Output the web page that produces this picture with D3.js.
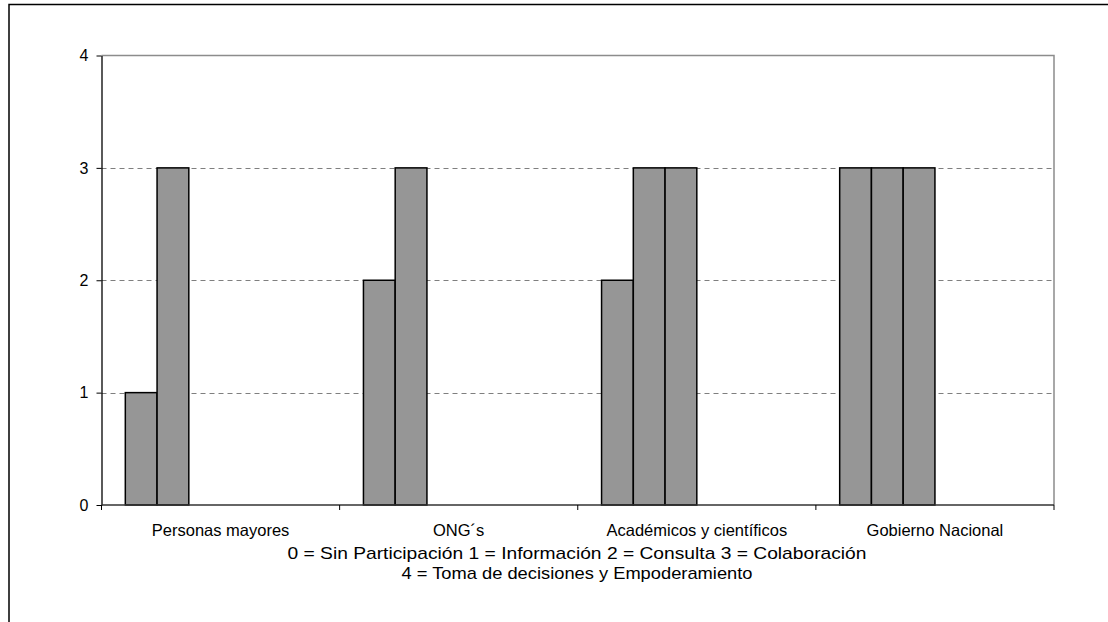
<!DOCTYPE html>
<html><head><meta charset="utf-8">
<script src="https://cdn.jsdelivr.net/npm/d3@7"></script>
<style>body{margin:0;background:#fff;} svg{display:block;}</style>
</head><body><svg id="c" width="1108" height="622"></svg>
<script>
const categories = ["Personas mayores", "ONG´s", "Académicos y científicos", "Gobierno Nacional"];
const seriesNames = ["s1","s2","s3","s4","s5","s6"];
const s1 = [1, 2, 2, 3];
const s2 = [3, 3, 3, 3];
const s3 = [0, 0, 3, 3];
const s4 = [0, 0, 0, 0];
const s5 = [0, 0, 0, 0];
const s6 = [0, 0, 0, 0];
const seriesValues = [s1, s2, s3, s4, s5, s6];
const yTicks = [0, 1, 2, 3, 4];
const legendLines = ["0 = Sin Participación  1 = Información  2 = Consulta  3 = Colaboración",
                     "4 = Toma de decisiones y Empoderamiento"];

const svg = d3.select("#c");
const L = 101.5, R = 1054, T = 55.5, B = 505;
const FONT = "Liberation Sans, Arial, sans-serif";

// outer border (left + top)
svg.append("path").attr("d", `M9,622 L9,4.5 L1108,4.5`).attr("fill","none").attr("stroke","#000").attr("stroke-width",1.5);

const x0 = d3.scaleBand().domain(categories).range([L, R]).paddingInner(0).paddingOuter(0);
const gap = 1.5;
const nS = seriesNames.length;
const bw = x0.bandwidth() / (nS + gap);
const x1 = d3.scaleBand().domain(seriesNames).range([bw*gap/2, bw*gap/2 + bw*nS]).padding(0);
const y = d3.scaleLinear().domain([0, 4]).range([B, T]);

// gridlines
svg.append("g").selectAll("line").data(yTicks.filter(d => d > 0 && d < 4)).join("line")
  .attr("x1", L).attr("x2", R).attr("y1", d => Math.round(y(d))+0.5).attr("y2", d => Math.round(y(d))+0.5)
  .attr("stroke", "#7f7f7f").attr("stroke-width", 1).attr("stroke-dasharray", "5,4");

// plot border top & right
svg.append("path").attr("d", `M${L},${T} L${R},${T} L${R},${B}`).attr("fill","none").attr("stroke","#8c8c8c").attr("stroke-width",1.5);

// bars
const barData = [];
categories.forEach((c, ci) => seriesNames.forEach((s, si) => {
  const v = seriesValues[si][ci];
  if (v > 0) barData.push({c, s, v});
}));
svg.append("g").selectAll("rect").data(barData).join("rect")
  .attr("x", d => x0(d.c) + x1(d.s))
  .attr("width", x1.bandwidth())
  .attr("y", d => y(d.v))
  .attr("height", d => y(0) - y(d.v))
  .attr("fill", "#969696").attr("stroke", "#000").attr("stroke-width", 1.5);

// y axis
const yAxis = d3.axisLeft(y).tickValues(yTicks).tickSize(5).tickSizeOuter(0).tickFormat(d3.format("d"));
const gy = svg.append("g").attr("transform", `translate(${L},0)`).call(yAxis)
  .attr("font-family", FONT).attr("font-size", 16);
gy.select(".domain").attr("stroke", "#000").attr("stroke-width", 1.3);
gy.selectAll(".tick line").attr("stroke", "#000");
gy.selectAll(".tick text").attr("fill","#000").attr("x", -13);

// x axis
const gx = svg.append("g").attr("transform", `translate(0,${B})`);
gx.append("line").attr("x1", L).attr("x2", R).attr("y1", 0).attr("y2", 0).attr("stroke", "#333").attr("stroke-width", 1.5);
const tickPos = categories.map(c => x0(c)).concat([R]);
gx.selectAll("line.t").data(tickPos).join("line").attr("class","t")
  .attr("x1", d => d).attr("x2", d => d).attr("y1", 0).attr("y2", 5).attr("stroke", "#000");
gx.selectAll("text").data(categories).join("text")
  .attr("x", d => x0(d) + x0.bandwidth()/2).attr("y", 31)
  .attr("text-anchor", "middle").attr("font-family", FONT).attr("font-size", 16.5)
  .text(d => d);

// legend text
svg.append("g").selectAll("text").data(legendLines).join("text")
  .attr("x", 577).attr("y", (d, i) => 559 + i * 20)
  .attr("text-anchor", "middle")
  .attr("font-family", FONT).attr("font-size", 17)
  .attr("textLength", (d, i) => i === 0 ? 579 : 351).attr("lengthAdjust", "spacingAndGlyphs")
  .text(d => d);
</script></body></html>
